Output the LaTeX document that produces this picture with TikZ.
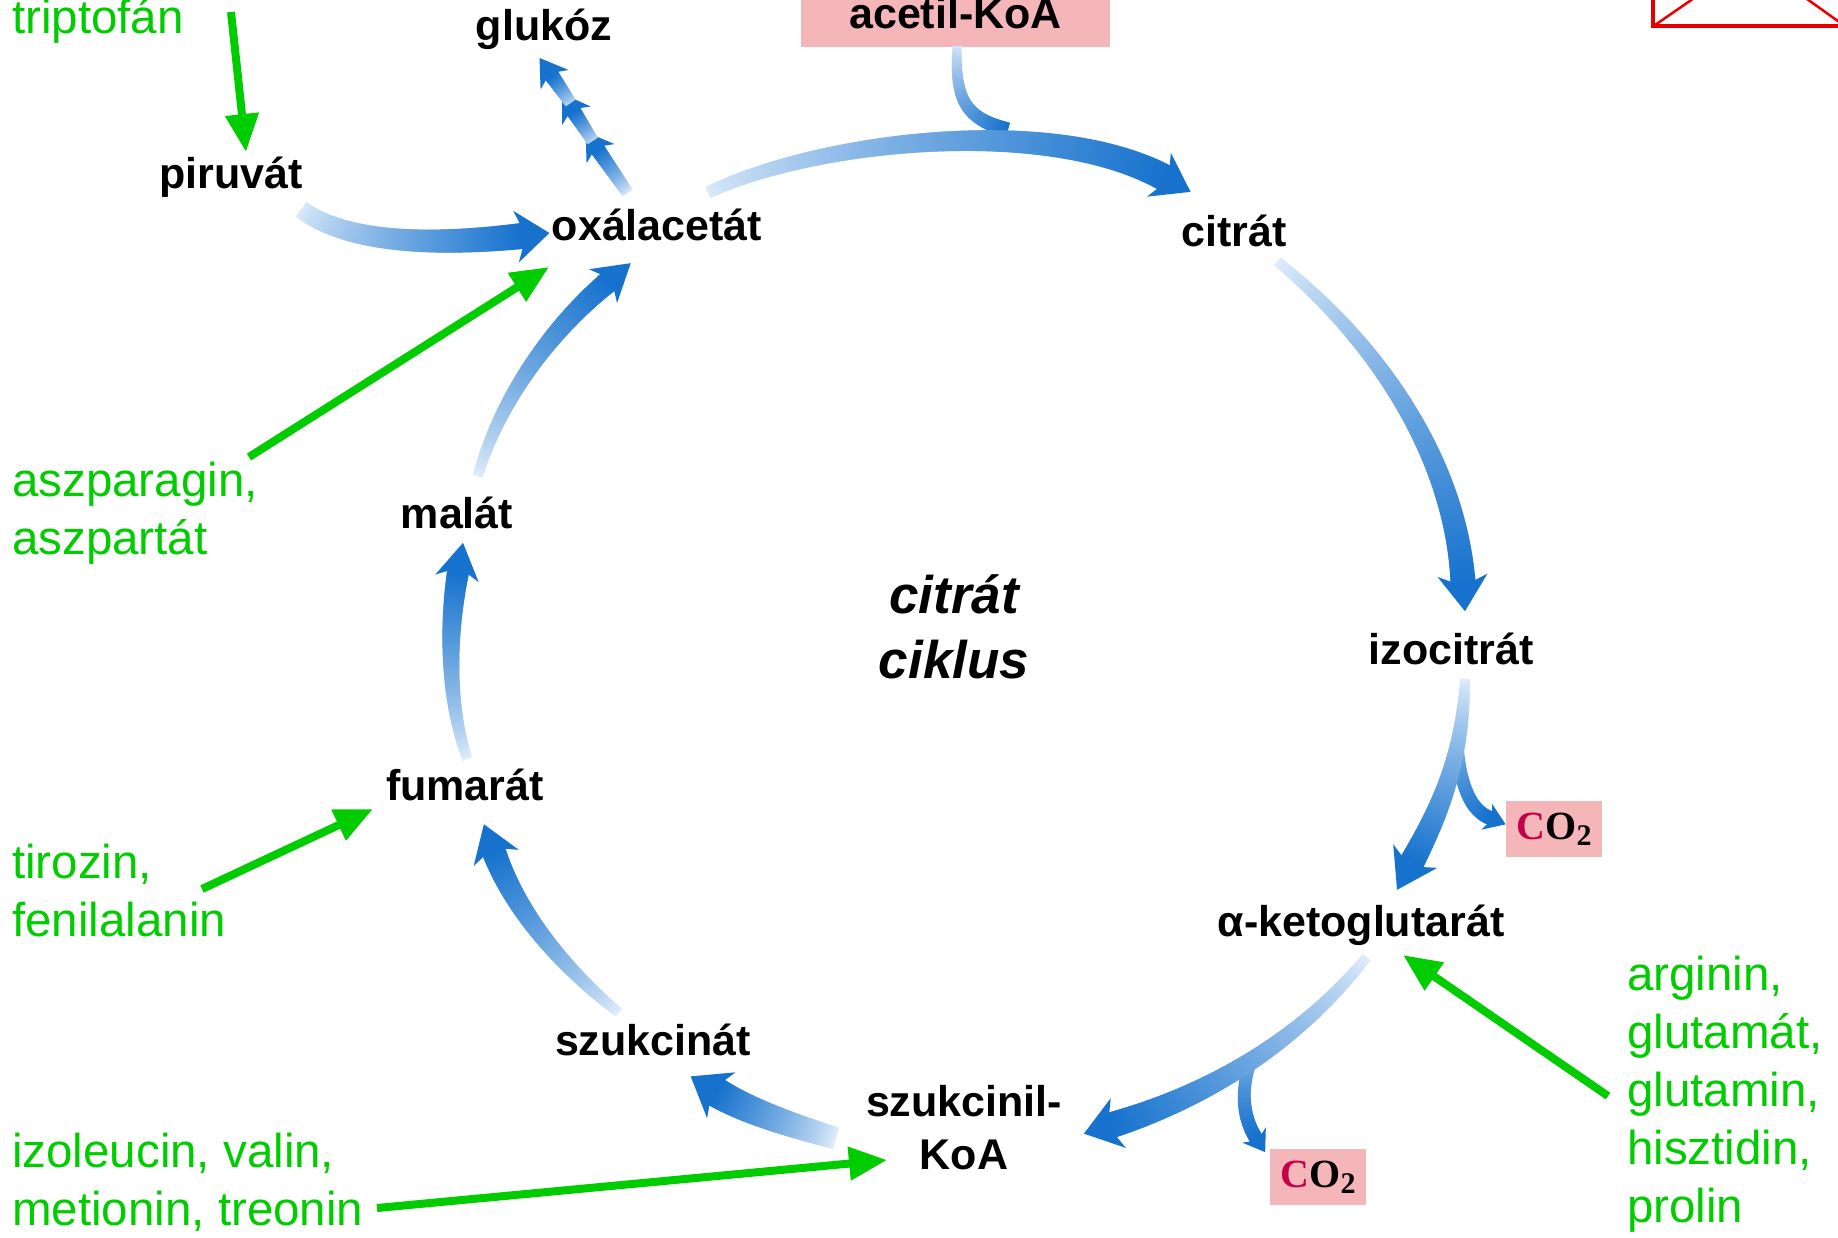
\documentclass[tikz,border=0pt]{standalone}
\usepackage{fontspec}
\setmainfont{Liberation Sans}
\newfontfamily\coserif{Liberation Serif}
\usetikzlibrary{decorations.markings, arrows.meta}

\definecolor{cycleblue}{RGB}{22,114,205}
\definecolor{cyclepale}{RGB}{236,244,253}
\definecolor{aagreen}{RGB}{0,204,0}
\definecolor{boxpink}{RGB}{245,182,186}
\definecolor{cocrimson}{RGB}{196,0,72}
\definecolor{markred}{RGB}{232,0,0}

\tikzset{
  % shaded arrow body: tail width, end width, starting colour percentage
  flowbody/.style n args={3}{postaction={decorate, decoration={markings,
      mark=between positions 0 and 1 step 1.5pt with {%
        \pgfmathsetmacro\fr{min(1,\pgfkeysvalueof{/pgf/decoration/mark info/distance from start}/\pgfdecoratedpathlength)}%
        \pgfmathsetmacro\hw{(#1+(#2-#1)*\fr)/2}%
        \pgfmathsetmacro\pc{#3+(100-#3)*\fr^0.8}%
        \fill[cycleblue!\pc!cyclepale] (-1.2pt,-\hw pt) rectangle (1.2pt,\hw pt);
      }}}},
  % barbed head at the end of the path: half width, length
  flowhead/.style 2 args={postaction={decorate, decoration={markings,
      mark=at position 0.998 with {%
        \fill[cycleblue] ({-0.2*#2pt},{#1pt}) -- ({#2pt},0pt) -- ({-0.2*#2pt},{-#1pt})
          -- (0pt,{-0.45*#1pt}) -- (0pt,{0.45*#1pt}) -- cycle;
      }}}},
  metab/.style={font=\fontsize{43}{53}\selectfont\bfseries, inner sep=0pt, anchor=base, align=center},
  aminoacid/.style={font=\fontsize{47.5}{57.8}\selectfont, text=aagreen, inner sep=0pt, anchor=base west, align=left},
  feed/.style={draw=aagreen, line width=8pt, -{Triangle[length=38pt,width=32pt]}},
  pinkbox/.style={fill=boxpink, inner sep=0pt},
  cotext/.style={pinkbox, minimum width=96pt, minimum height=56pt,
    font=\coserif\bfseries\fontsize{40}{44}\selectfont},
}

\newcommand\cotwo{\textcolor{cocrimson}{C}O\raisebox{-0.15em}{\fontsize{30}{30}\selectfont 2}}

\begin{document}
\begin{tikzpicture}[x=1pt, y=-1pt]
\useasboundingbox (0,0) rectangle (1838,1237);
\clip (0,0) rectangle (1838,1237);
\fill[white] (0,0) rectangle (1838,1237);

% ---- marker rectangle at the top right corner
\draw[markred, line width=4.5pt] (1653,-20) -- (1653,26) -- (1860,26);
\draw[markred, line width=2.5pt] (1655,25) -- (1700,-6);
\draw[markred, line width=2.5pt] (1800,-6) -- (1842,24);

% ---- acetyl-CoA input box
\node[pinkbox, minimum width=309pt, minimum height=68pt,
      font=\fontsize{43}{53}\selectfont\bfseries] (acetil) at (955.5,13) {acetil-KoA};

% ---- cycle intermediates (multi-line labels are anchored at their last line)
\node[metab] (glukoz) at (544,40) {glukóz};
\node[metab] (piruvat) at (231,188) {piruvát};
\node[metab] (oxal) at (657,240) {oxálacetát};
\node[metab] (citrat) at (1234,246) {citrát};
\node[metab] (izocitrat) at (1451,664) {izocitrát};
\node[metab] (aketo) at (1361,936) {α-ketoglutarát};
\node[metab] (szkoa) at (964,1169) {szukcinil-\\KoA};
\node[metab] (szukcinat) at (653,1055) {szukcinát};
\node[metab] (fumarat) at (465,800) {fumarát};
\node[metab] (malat) at (457,528) {malát};
\node[metab, font=\fontsize{53}{65}\selectfont\bfseries\itshape] (ciklus) at (954,678) {citrát\\ciklus};

% ---- released CO2
\node[cotext] (co2a) at (1554,829) {\cotwo};
\node[cotext] (co2b) at (1318,1177) {\cotwo};

% ---- amino acid labels
\node[aminoacid] (trp) at (12,33) {triptofán};
\node[aminoacid] (asp) at (12,554) {aszparagin,\\aszpartát};
\node[aminoacid] (tyr) at (12,936) {tirozin,\\fenilalanin};
\node[aminoacid] (ile) at (12,1225) {izoleucin, valin,\\metionin, treonin};
\node[aminoacid] (arg) at (1627,1222) {arginin,\\glutamát,\\glutamin,\\hisztidin,\\prolin};

% ---- citric acid cycle arrows
% oxalacetate -> citrate (with acetyl-CoA joining)
\path[flowbody={9}{15}{10}] (acetil.south -| 957,0) .. controls (955,100) and (965,118) .. (1008,130);
\path[flowbody={12}{27}{8}, flowhead={25}{30}] (709,192) .. controls (820,140) and (1050,115) .. (1165,178);
% citrate -> isocitrate
\path[flowbody={10}{25}{5}, flowhead={25}{30}] (1278,262) .. controls (1380,345) and (1455,460) .. (1463,582);
% isocitrate -> alpha-ketoglutarate, branch to CO2
\path[flowbody={12}{14}{55}, flowhead={14}{17}] (1458,752) .. controls (1462,795) and (1475,812) .. (1490,818);
\path[flowbody={10}{25}{5}, flowhead={25}{32}] (1465,680) .. controls (1462,760) and (1440,810) .. (1412,862);
% alpha-ketoglutarate -> succinyl-CoA, branch to CO2
\path[flowbody={12}{14}{55}, flowhead={14}{17}] (1251,1061) .. controls (1240,1090) and (1243,1118) .. (1256,1138);
\path[flowbody={10}{26}{5}, flowhead={26}{30}] (1366,958) .. controls (1300,1040) and (1210,1095) .. (1112,1125);
% succinyl-CoA -> succinate
\path[flowbody={22}{30}{5}, flowhead={27}{30}] (835,1138) .. controls (790,1125) and (745,1110) .. (716,1092);
% succinate -> fumarate
\path[flowbody={10}{24}{5}, flowhead={24}{30}] (618,1012) .. controls (560,965) and (515,910) .. (494,852);
% fumarate -> malate
\path[flowbody={10}{22}{5}, flowhead={22}{30}] (467,758) .. controls (447,700) and (448,630) .. (458,572);
% malate -> oxalacetate
\path[flowbody={10}{22}{5}, flowhead={22}{30}] (478,475) .. controls (500,400) and (550,330) .. (608,282);
% pyruvate -> oxalacetate
\path[flowbody={18}{26}{8}, flowhead={26}{28}] (302,210) .. controls (350,245) and (440,245) .. (522,236);
% oxalacetate -> glucose
\path[flowbody={12}{15}{10}, flowhead={17}{22}] (627,192) -- (598,150);
\path[flowbody={12}{15}{25}, flowhead={17}{22}] (592,140) -- (574,112);
\path[flowbody={12}{15}{25}, flowhead={17}{22}] (570,102) -- (552,76);

% ---- amino acid entry points
\coordinate (trp-from) at (231,12);   \coordinate (trp-to) at (246,152);
\coordinate (asp-from) at (249,457);  \coordinate (asp-to) at (549,267);
\coordinate (tyr-from) at (202,889);  \coordinate (tyr-to) at (373,809);
\coordinate (ile-from) at (377,1208); \coordinate (ile-to) at (887,1160);
\coordinate (arg-from) at (1608,1096); \coordinate (arg-to) at (1403,955);
\draw[feed] (trp-from) -- (trp-to);
\draw[feed] (asp-from) -- (asp-to);
\draw[feed] (tyr-from) -- (tyr-to);
\draw[feed] (ile-from) -- (ile-to);
\draw[feed] (arg-from) -- (arg-to);
\end{tikzpicture}
\end{document}
